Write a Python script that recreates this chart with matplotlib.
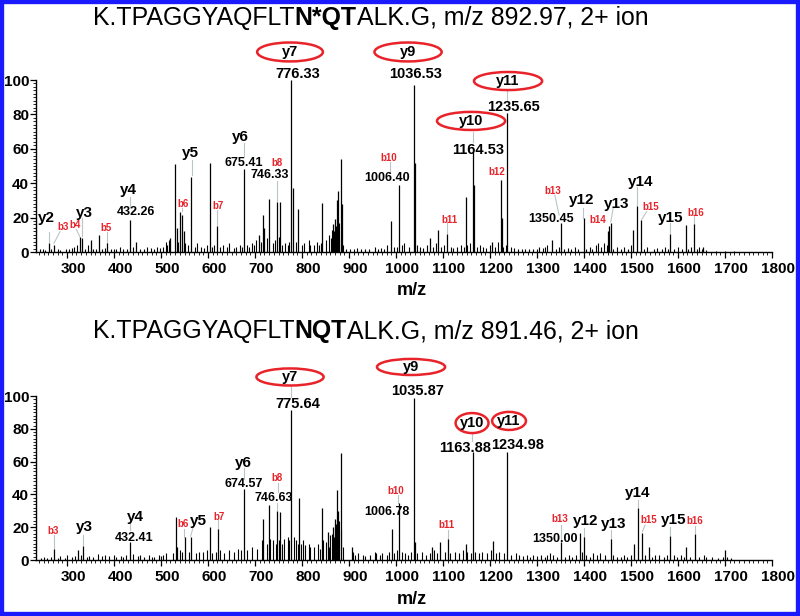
import matplotlib
matplotlib.use('Agg')
import matplotlib.pyplot as plt
from matplotlib.patches import Ellipse, Rectangle
from matplotlib.transforms import ScaledTranslation, IdentityTransform
from matplotlib.ticker import MultipleLocator

FONT = ['Liberation Sans', 'DejaVu Sans']
plt.rcParams['font.family'] = FONT

# ---------------- DATA ----------------
# Top spectrum: K.TPAGGYAQFLTN*QTALK.G, m/z 892.97
top_peak_mz = [261, 272, 327, 332, 351, 368, 386, 434, 447, 520, 529, 533, 540, 544, 548,
               563, 604, 620, 676, 708, 716, 720, 730, 747, 754, 777, 780, 792, 843, 866,
               870, 874, 877, 884, 886, 989, 1007, 1038, 1041, 1072, 1090, 1108, 1148,
               1164.5, 1167, 1205, 1223, 1226, 1237, 1332, 1351, 1399, 1450, 1453, 1457,
               1505, 1512, 1521, 1583, 1617, 1634, 1654]
top_peak_int = [5.4, 4, 9, 8, 7, 10, 5, 18.6, 6, 8, 51, 14, 23.5, 21.5, 12,
                43.5, 52, 15, 48, 10, 21.5, 14, 31, 29, 29, 100, 37, 25, 28.7, 16,
                19, 30, 35.6, 54, 28, 18, 39, 97, 52, 8, 13, 10.5, 32,
                58, 39, 6, 42, 20, 81, 7, 17, 19.5, 12, 15, 17,
                13, 27, 18.6, 10.5, 15.7, 16, 3]
top_noise_mz = [242, 248, 253, 266, 280, 286, 298, 304, 310, 315, 322, 338, 344, 356, 362, 375,
                381, 394, 400, 405, 413, 420, 428, 441, 455, 463, 470, 478, 485, 492, 498, 505,
                510, 513, 518, 537, 551, 558, 572, 576, 586, 592, 598, 609, 613, 626, 631, 640,
                644, 655, 660, 668, 672, 684, 687, 694, 698, 702, 712, 725, 738, 742, 750, 758,
                763, 770, 773, 788, 800, 804, 814, 818, 826, 832, 836, 840, 851, 858, 862, 864,
                868, 872, 876, 879, 882, 888, 893, 902, 910, 918, 926, 934, 942, 955, 962, 968,
                975, 980, 996, 1002, 1012, 1018, 1028, 1045, 1052, 1058, 1066, 1078, 1085, 1096,
                1102, 1116, 1122, 1130, 1138, 1144, 1152, 1157, 1172, 1178, 1186, 1192, 1200,
                1210, 1216, 1228, 1233, 1244, 1250, 1260, 1268, 1275, 1283, 1292, 1300, 1305,
                1312, 1318, 1322, 1340, 1346, 1358, 1365, 1372, 1380, 1387, 1405, 1412, 1418,
                1425, 1430, 1436, 1442, 1448, 1462, 1470, 1478, 1486, 1494, 1500, 1528, 1535,
                1548, 1556, 1565, 1572, 1578, 1592, 1600, 1608, 1622, 1628, 1640, 1645, 1650,
                1660, 1680, 1700, 1720]
top_noise_int = [1.5, 2, 1.2, 1.5, 2, 1.2, 1.8, 1.5, 2.5, 3, 4, 1.8, 4, 2, 1.5, 2,
                 2.5, 1.5, 2, 2, 3, 2, 1.5, 3, 2, 1.5, 3, 2.5, 2, 3, 2.5, 3,
                 6, 4, 7, 6, 5, 4, 3, 5, 3, 2.5, 4, 3, 4, 3, 4, 3,
                 5, 2.5, 3, 4, 3, 4, 3, 5, 4, 7, 6, 8, 5, 7, 9, 4,
                 5, 4, 6, 6, 4, 5, 7, 4, 4, 6, 4, 5, 7, 10, 8, 13,
                 12, 15, 10, 17, 8, 4, 2, 2, 1.5, 2.5, 2, 1.5, 2, 3, 2, 2.5,
                 2, 4, 3, 3, 4, 5, 3, 4, 3, 2.5, 4, 3, 5, 3,
                 4, 3, 2.5, 3, 4, 3, 4, 5, 3, 4, 3, 2.5, 4,
                 3, 6, 3, 4, 3, 2.5, 2, 2, 1.5, 2, 1.5, 2, 3,
                 2.5, 3, 4, 2, 3, 2, 2.5, 2, 3, 2, 2, 3, 2,
                 4, 5, 3, 5, 4, 2, 3, 2, 3, 2, 4, 2, 3,
                 2, 2.5, 2, 3, 2, 2, 3, 2, 2, 3, 2, 3, 2,
                 1, 0.8, 0.8, 0.6]

# Bottom spectrum: K.TPAGGYAQFLTNQTALK.G, m/z 891.46
bot_peak_mz = [272, 324, 335, 434, 531, 535, 550, 563, 604, 622, 676, 718, 730, 747, 754,
               777, 794, 842, 856, 866, 870, 874, 877, 884, 906, 991, 1007, 1038, 1041,
               1076, 1094, 1110, 1148, 1164.5, 1206, 1237, 1352, 1391, 1400, 1457, 1506,
               1514, 1524, 1539, 1584, 1618, 1636, 1700]
bot_peak_int = [7, 6, 8.7, 11, 26, 8, 14, 14, 20, 18.7, 43, 25, 33.5, 30, 29,
                91.5, 37.6, 32, 17, 20, 25, 42.7, 30, 65, 8, 19, 34.5, 99, 11,
                8, 11, 12.6, 10, 66, 11.8, 66, 11, 16.7, 13.8, 12.6, 10,
                32, 16.7, 8, 14.6, 8, 15.9, 6]
bot_noise_mz = [245, 252, 258, 266, 280, 285, 296, 300, 310, 316, 330, 342, 346, 356, 365, 375,
                380, 390, 400, 404, 415, 420, 426, 440, 450, 456, 464, 475, 480, 486, 495, 500,
                505, 510, 525, 540, 545, 560, 575, 580, 590, 598, 608, 616, 626, 635, 645, 655,
                664, 670, 684, 694, 704, 714, 725, 732, 738, 744, 750, 757, 762, 770, 773, 782,
                788, 791, 798, 803, 806, 815, 818, 825, 835, 838, 845, 852, 858, 860, 864, 868,
                872, 876, 879, 882, 888, 908, 912, 920, 930, 935, 945, 955, 958, 965, 970, 980,
                985, 995, 1002, 1012, 1020, 1026, 1032, 1045, 1055, 1063, 1072, 1080, 1088,
                1104, 1115, 1125, 1134, 1142, 1152, 1160, 1168, 1176, 1184, 1194, 1202, 1212,
                1220, 1230, 1244, 1255, 1262, 1270, 1278, 1285, 1292, 1300, 1308, 1316, 1322,
                1328, 1335, 1342, 1360, 1368, 1375, 1382, 1395, 1405, 1412, 1420, 1428, 1435,
                1445, 1462, 1470, 1478, 1485, 1492, 1500, 1530, 1545, 1552, 1560, 1570, 1576,
                1592, 1598, 1606, 1612, 1625, 1645, 1655, 1660, 1672, 1685, 1695, 1705, 1712]
bot_noise_int = [1.5, 2, 1.5, 2, 1.5, 2.5, 1.5, 3, 2, 2.5, 3, 2, 2.5, 2, 3.5, 2.5,
                 3, 2.5, 3, 2, 2.5, 2, 3, 3.5, 2.5, 3, 2, 3, 2, 2, 3, 2.5,
                 3, 4, 4, 6, 5, 5, 4, 5, 5, 6, 4, 5, 6, 4, 6, 5,
                 7, 6, 6, 8, 7, 12, 10, 13, 12, 10, 12, 10, 13, 14, 12, 14,
                 12, 10, 10, 12, 9, 10, 8, 8, 10, 7, 12, 11, 8, 15, 16, 14,
                 22, 14, 24, 18, 8, 5, 3, 4, 3, 2.5, 3, 5, 4, 3, 4, 3,
                 5, 4, 6, 5, 4, 3, 5, 4, 5, 3, 4, 6, 4,
                 5, 4, 5, 4, 6, 5, 4, 5, 4, 5, 4, 6, 4,
                 5, 4, 3, 4, 3, 2.5, 3, 2, 3, 2.5, 3, 2, 3,
                 4, 3, 2, 2, 3, 2, 3, 5, 3, 2, 4, 3, 4,
                 3, 3, 2, 2, 3, 2, 3, 3, 2, 3, 3, 2, 3,
                 3, 2, 3, 2, 2, 2, 3, 2, 2, 1.5, 2, 2, 1.5]

x_ticks = [300, 400, 500, 600, 700, 800, 900, 1000, 1100, 1200, 1300, 1400, 1500, 1600, 1700, 1800]
y_ticks = [0, 20, 40, 60, 80, 100]

# ---------------- LAYOUT / ANNOTATIONS ----------------
top_title = [("K.TPAGGYAQFLT", 'normal'), ("N*QT", 'bold'), ("ALK.G, m/z 892.97, 2+ ion", 'normal')]
bot_title = [("K.TPAGGYAQFLT", 'normal'), ("NQT", 'bold'), ("ALK.G, m/z 891.46, 2+ ion", 'normal')]

top_labels = [
    ("y2", 257, 19.8, 'ion'), ("y3", 338, 22.7, 'ion'), ("y4", 430, 36, 'ion'),
    ("y5", 562, 57.6, 'ion'), ("y6", 668, 66.9, 'ion'), ("y12", 1394, 30.2, 'ion'),
    ("y13", 1470, 27.9, 'ion'), ("y14", 1521, 40.7, 'ion'), ("y15", 1585, 19.8, 'ion'),
    ("b3", 291.5, 14.5, 'b'), ("b4", 317, 15.7, 'b'), ("b5", 383, 14, 'b'),
    ("b6", 547, 27.9, 'b'), ("b7", 621, 26.7, 'b'), ("b8", 747, 51.7, 'b'),
    ("b10", 985, 54.7, 'b'), ("b11", 1113, 18.6, 'b'), ("b12", 1215, 46.5, 'b'),
    ("b13", 1334, 35.5, 'b'), ("b14", 1430, 18.6, 'b'), ("b15", 1543, 26.2, 'b'),
    ("b16", 1638, 22.7, 'b'),
    ("432.26", 447, 23.3, 'val'), ("675.41", 677, 51.7, 'val'), ("746.33", 732, 44.8, 'val'),
    ("1006.40", 981, 43, 'val'), ("1350.45", 1330, 19.2, 'val'),
    ("776.33", 791.5, 103.5, 'big'), ("1036.53", 1042.6, 103.5, 'big'),
    ("1235.65", 1251, 84.3, 'big'), ("1164.53", 1174.6, 59.3, 'big'),
]
top_ellipses = [("y7", 774.5, 116.3, 140, 11), ("y9", 1025.6, 116.3, 143, 11),
                ("y11", 1238.4, 99.4, 145, 10.5), ("y10", 1159.7, 76.2, 145, 10.5)]
top_leaders = [(261, 11.8, 261, 6), (285, 11.8, 272, 5), (320, 13, 327, 9), (332, 20, 332, 9.5),
               (386, 11.8, 386, 5.5), (434, 32, 434, 26), (545, 25.5, 545, 24), (565, 53.5, 565, 44.5),
               (620, 24.4, 620, 15.5), (676, 63.4, 676, 55), (749.6, 49, 749.6, 47.5),
               (747, 41, 747, 29.5), (987, 52.5, 987, 46.5), (1108, 16.7, 1108, 11),
               (1338, 33, 1347, 21.5), (1398.6, 25.4, 1398.6, 20), (1462, 25.4, 1457, 17.5),
               (1512, 38, 1512, 27.5), (1533, 23.4, 1523, 19), (1584, 16.7, 1584, 11),
               (1634, 21.5, 1634, 16.5), (1237, 93.6, 1237, 88.4), (1164.5, 70, 1164.5, 64)]

bot_labels = [
    ("y3", 338, 20.1, 'ion'), ("y4", 444.7, 26.2, 'ion'), ("y5", 578.7, 23.8, 'ion'),
    ("y6", 674.5, 59.2, 'ion'), ("y12", 1404, 23.8, 'ion'), ("y13", 1464, 22, 'ion'),
    ("y14", 1515, 40.9, 'ion'), ("y15", 1590, 24.4, 'ion'),
    ("b3", 270, 17.7, 'b'), ("b6", 547, 22, 'b'), ("b7", 623, 26.2, 'b'), ("b8", 747, 50, 'b'),
    ("b10", 1000, 42.1, 'b'), ("b11", 1106.5, 21.3, 'b'), ("b13", 1349, 25, 'b'),
    ("b15", 1538.5, 24.4, 'b'), ("b16", 1636, 23.8, 'b'),
    ("432.41", 442.5, 13.4, 'val'), ("674.57", 676.6, 46.3, 'val'), ("746.63", 740.5, 37.8, 'val'),
    ("1006.78", 981, 29.3, 'val'), ("1350.00", 1338.4, 12.8, 'val'),
    ("775.64", 791.5, 95.1, 'big'), ("1035.87", 1044.8, 103, 'big'),
    ("1163.88", 1147, 68.3, 'big'), ("1234.98", 1257.6, 70.1, 'big'),
]
bot_ellipses = [("y7", 774.5, 111.6, 143, 10.4), ("y9", 1032, 117.7, 145, 9.8),
                ("y10", 1161.8, 83.5, 70, 12.2), ("y11", 1240.5, 84.8, 72, 11)]
bot_leaders = [(272, 15.2, 272, 7.5), (334.7, 15.2, 334.7, 9), (434, 23.4, 434, 18.3),
               (549.6, 18.7, 549.6, 14.3), (568.7, 20.3, 563, 14.5), (622, 24.4, 622, 19.2),
               (676.5, 55.9, 676.5, 49.2), (749.6, 46.7, 749.6, 41.7), (747, 34.5, 747, 30.5),
               (1005, 39.6, 1005, 35), (1110, 18.3, 1110, 13), (1351, 21.3, 1351, 12.2),
               (1400, 19.3, 1400, 14.3), (1457, 18.3, 1457, 13), (1514, 36.6, 1514, 32.5),
               (1530, 21.3, 1524, 17.2), (1584, 19.9, 1584, 15), (1636, 20.7, 1636, 16.4),
               (776, 106.7, 776, 99.5), (1161, 77.4, 1161, 72.5)]

RED = '#e8232a'
LEADER = '#b9c6c9'
W, H = 800, 616

fig = plt.figure(figsize=(8, 6.16), dpi=100)
fig.patch.set_facecolor('white')


def axes_rect(left_px, right_px, top_px, bottom_px):
    return [left_px / W, 1 - bottom_px / H, (right_px - left_px) / W, (bottom_px - top_px) / H]


ax1 = fig.add_axes(axes_rect(36, 772, 80, 252))
ax2 = fig.add_axes(axes_rect(36, 772, 396, 560))

styles = {
    'ion': dict(fontsize=11, fontweight='bold', color='black'),
    'b': dict(fontsize=7, fontweight='bold', color=RED),
    'val': dict(fontsize=9, fontweight='bold', color='black'),
    'big': dict(fontsize=10.5, fontweight='bold', color='black'),
}


def draw_panel(ax, pmz, pint, nmz, nint, labels, ellipses, leaders, xlabel_y):
    ax.vlines(nmz, 0, nint, color='black', lw=0.8)
    ax.vlines(pmz, 0, pint, color='black', lw=0.9, clip_on=False)
    ax.set_xlim(234, 1800)
    ax.set_ylim(0, 100)
    for x1, y1, x2, y2 in leaders:
        ax.plot([x1, x2], [y1, y2], color=LEADER, lw=0.8, clip_on=False, zorder=1)
    for txt, x, y, kind in labels:
        ax.text(x, y, txt, ha='center', va='center', clip_on=False, **styles[kind])
    for txt, x, y, w, h in ellipses:
        ax.add_patch(Ellipse((x, y), w, h, fill=False, edgecolor=RED, lw=1.8, clip_on=False))
        ax.text(x, y, txt, ha='center', va='center', clip_on=False, **styles['big'])
    for s in ['top', 'right']:
        ax.spines[s].set_visible(False)
    for s in ['left', 'bottom']:
        ax.spines[s].set_linewidth(1.0)
    ax.set_xticks(x_ticks)
    ax.set_yticks(y_ticks)
    ax.xaxis.set_minor_locator(MultipleLocator(10))
    ax.yaxis.set_minor_locator(MultipleLocator(2))
    ax.tick_params(axis='both', which='major', direction='out', length=4, width=0.9,
                   labelsize=11, pad=3)
    ax.tick_params(axis='both', which='minor', direction='out', length=2, width=0.6)
    ax.tick_params(axis='y', which='major', pad=1)
    for lab in ax.get_xticklabels() + ax.get_yticklabels():
        lab.set_fontweight('bold')
    off = ScaledTranslation(6 / 100, 0, fig.dpi_scale_trans)
    for tick in ax.xaxis.get_major_ticks():
        tick.label1.set_transform(tick.label1.get_transform() + off)
    ax.text((412 - 36) / 736, xlabel_y, 'm/z', transform=ax.transAxes, ha='center', va='center',
            fontsize=13, fontweight='bold')


draw_panel(ax1, top_peak_mz, top_peak_int, top_noise_mz, top_noise_int,
           top_labels, top_ellipses, top_leaders, -(290 - 252) / 172)
draw_panel(ax2, bot_peak_mz, bot_peak_int, bot_noise_mz, bot_noise_int,
           bot_labels, bot_ellipses, bot_leaders, -(600 - 560) / 164)


def rich_title(parts, left_px, baseline_px, size):
    r = fig.canvas.get_renderer()
    x = left_px
    for s, w in parts:
        t = fig.text(x, H - baseline_px, s, fontsize=size, fontweight=w, ha='left', va='baseline',
                     transform=IdentityTransform())
        x += t.get_window_extent(r).width


rich_title(top_title, 93, 25, 17.9)
rich_title(bot_title, 93, 338, 17.9)

# blue frame
fig.patches.append(Rectangle((0, 0), 1, 1, transform=fig.transFigure, fill=False,
                             edgecolor='#1a1aff', lw=6, zorder=10))

fig.savefig('out.png', dpi=100)
